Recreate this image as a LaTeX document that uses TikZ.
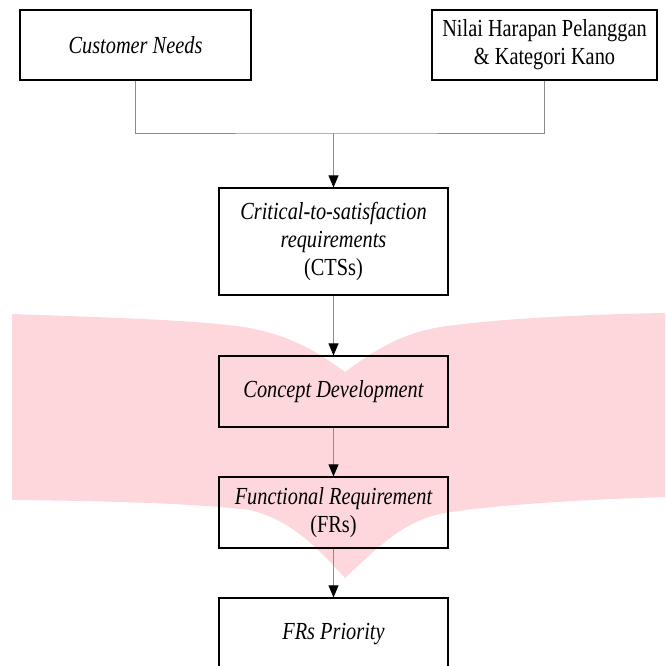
\documentclass[tikz,border=0pt]{standalone}
\usepackage{fontspec}
\setmainfont[FakeStretch=0.83]{Liberation Serif}
\usetikzlibrary{arrows.meta}
\definecolor{pinkband}{RGB}{253,215,220}
\definecolor{linkgray}{RGB}{140,140,140}
\tikzset{
  box/.style={draw=black, line width=1.2pt, align=center, inner sep=0pt,
    font=\fontsize{24.5}{28}\selectfont},
  link/.style={draw=linkgray, line width=0.8pt},
  arr/.style={link, -{Triangle[length=12pt,width=10pt,black]}}
}
\begin{document}
\begin{tikzpicture}[x=1pt,y=-1pt]
\useasboundingbox (0,0) rectangle (665,666);
\clip (0,0) rectangle (665,666);
% pink band
\fill[pinkband] (12,314) .. controls (120,318) and (200,320) .. (250,328)
  .. controls (290,336) and (315,350) .. (345,372)
  .. controls (375,350) and (400,334) .. (440,327)
  .. controls (500,318) and (600,314) .. (665,313)
  -- (665,497)
  .. controls (600,499) and (500,504) .. (445,513)
  .. controls (405,520) and (380,545) .. (345,578)
  .. controls (315,545) and (290,520) .. (250,510)
  .. controls (200,504) and (120,501) .. (12,500) -- cycle;
% boxes
\node[box, minimum width=231pt, minimum height=70pt] (cn) at (135.5,45) {\itshape Customer Needs};
\node[box, minimum width=225pt, minimum height=70pt] (nh) at (544.5,45) {Nilai Harapan Pelanggan\\ \& Kategori Kano};
\node[box, minimum width=229pt, minimum height=107pt] (cts) at (333.5,241.5) {\itshape Critical-to-satisfaction\\ \itshape requirements\\ (CTSs)};
\node[box, minimum width=229pt, minimum height=71pt] (cd) at (333.5,391.5) {\itshape Concept Development};
\node[box, minimum width=229pt, minimum height=71pt] (fr) at (333.5,512.5) {\itshape Functional Requirement\\ (FRs)};
\node[box, minimum width=229pt, minimum height=72pt] (fp) at (333.5,634) {\itshape FRs Priority};
% connectors
\coordinate (jn) at (333.5,133);
\draw[link] (cn.south) |- (jn) -| (nh.south);
\draw[arr] (jn) -- (cts.north);
\draw[arr] (cts) -- (cd);
\draw[arr] (cd) -- (fr);
\draw[arr] (fr) -- (fp);
\end{tikzpicture}
\end{document}
